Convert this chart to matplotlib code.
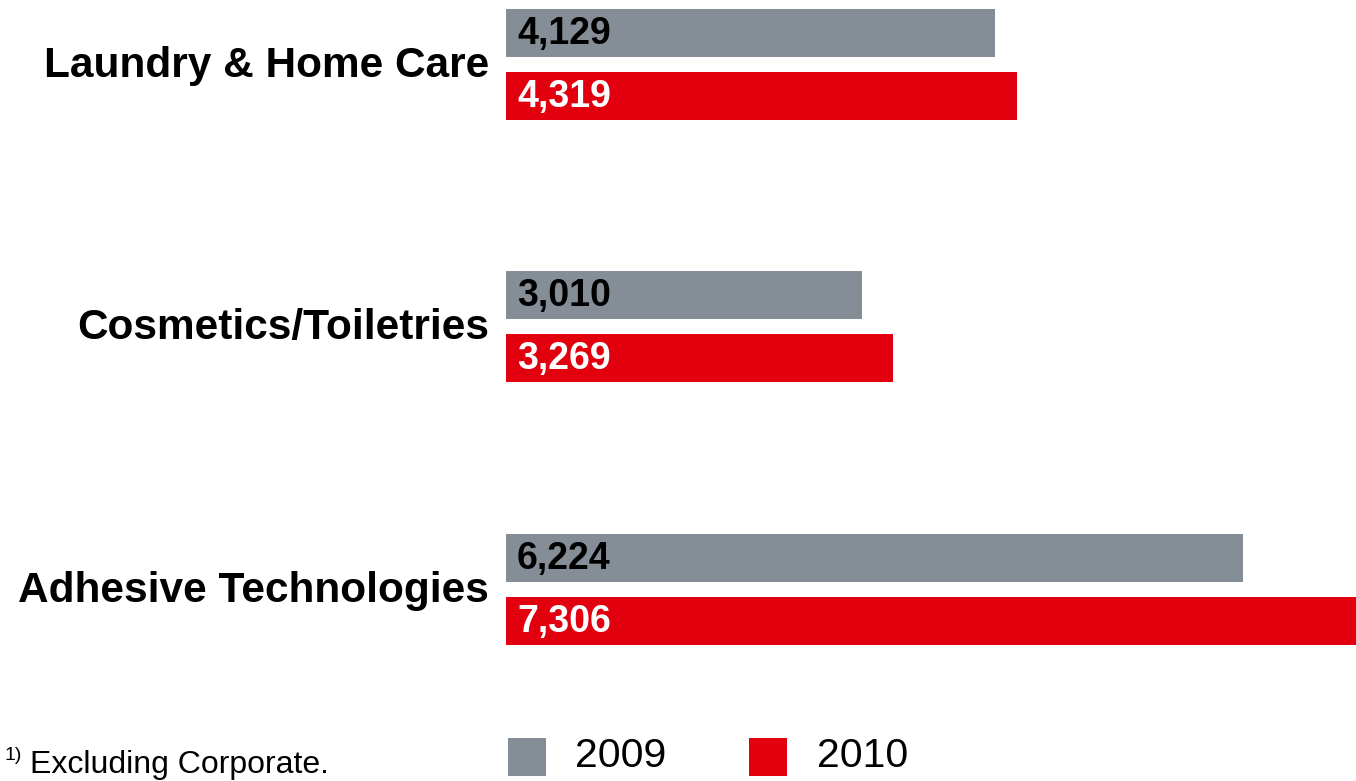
import matplotlib.pyplot as plt
import numpy as np
from matplotlib.patches import Rectangle
from matplotlib import font_manager as fm
from matplotlib.transforms import offset_copy

# pick the regular-width Liberation Sans files (avoid the Narrow variant)
reg_file, bold_file = None, None
for f in fm.fontManager.ttflist:
    if f.name == 'Liberation Sans' and 'Narrow' not in f.fname and f.style == 'normal':
        if f.weight in (700, 'bold'):
            bold_file = f.fname
        elif f.weight in (400, 'normal', 'regular'):
            reg_file = f.fname
fp_reg = fm.FontProperties(fname=reg_file) if reg_file else fm.FontProperties(family='Liberation Sans')
fp_bold = fm.FontProperties(fname=bold_file) if bold_file else fm.FontProperties(family='Liberation Sans', weight='bold')

# data
categories = ['Laundry & Home Care', 'Cosmetics/Toiletries', 'Adhesive Technologies']
sales_2009 = [4129, 3010, 6224]
sales_2010 = [4319, 3269, 7306]
years = ['2009', '2010']

gray = '#858e97'
red = '#e2000f'

W, H = 1356, 781
fig = plt.figure(figsize=(W / 100, H / 100), dpi=100)

ax_left = 506
ax = fig.add_axes([ax_left / W, 0, (W - ax_left) / W, 1])

spacing = 262.5  # px between groups
bar_h = 48 / spacing
off = 31.5 / spacing
px_per_unit = 0.1184

y = np.arange(len(categories))
ax.barh(y - off, sales_2009, height=bar_h, color=gray)
ax.barh(y + off, sales_2010, height=bar_h, color=red)

ax.set_xlim(0, (W - ax_left) / px_per_unit)
ax.set_ylim((H - 64) / spacing, -64 / spacing)
ax.axis('off')

# value labels inside bars
pad = 11 / px_per_unit
for yy, v in zip(y - off, sales_2009):
    ax.text(pad, yy + 0.005, f'{v:,}', ha='left', va='center', fontsize=27,
            fontproperties=fp_bold, color='black')
for yy, v in zip(y + off, sales_2010):
    ax.text(pad, yy + 0.005, f'{v:,}', ha='left', va='center', fontsize=27,
            fontproperties=fp_bold, color='white')

# category labels, baseline a bit below group centre
lab_tr = offset_copy(ax.transData, fig=fig, x=-17, y=-13, units='dots')
for yy, name in zip(y, categories):
    ax.text(0, yy, name, transform=lab_tr, ha='right', va='baseline',
            fontproperties=fp_bold, fontsize=30.5, clip_on=False)

# legend
for x0, xt, c, lab in [(508, 575, gray, years[0]), (749, 817, red, years[1])]:
    fig.add_artist(Rectangle((x0 / W, 1 - 776 / H), 38 / W, 38 / H,
                             transform=fig.transFigure, color=c, lw=0))
    fig.text(xt / W, 1 - 767 / H, lab, fontproperties=fp_reg, fontsize=29.5,
             ha='left', va='baseline')

# footnote
fig.text(4 / W, 1 - 760 / H, '1)', fontproperties=fp_reg, fontsize=14,
         ha='left', va='baseline')
fig.text(30 / W, 1 - 773 / H, 'Excluding Corporate.', fontproperties=fp_reg,
         fontsize=23, ha='left', va='baseline')

fig.savefig('out.png', dpi=100)
